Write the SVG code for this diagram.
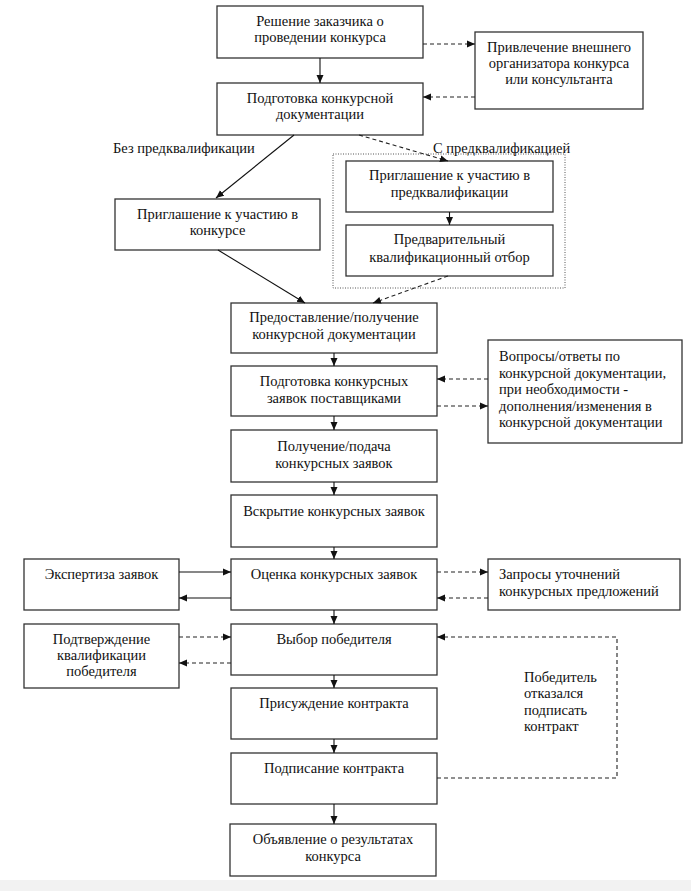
<svg xmlns="http://www.w3.org/2000/svg" width="691" height="891" viewBox="0 0 691 891">
<style>
.b{fill:#fff;stroke:#333;stroke-width:1.3}
.t{font-family:"Liberation Serif","Times New Roman",serif;font-size:14.5px;fill:#111;text-anchor:middle}
.l{text-anchor:start}
.s{fill:none;stroke:#111;stroke-width:1.1}
.d{fill:none;stroke:#222;stroke-width:1.1;stroke-dasharray:4 3}
</style>
<defs>
<marker id="a" markerUnits="userSpaceOnUse" markerWidth="9" markerHeight="8" refX="8" refY="4" orient="auto">
<path d="M0,0.5 L8,4 L0,7.5 z" fill="#111"/>
</marker>
</defs>
<rect width="691" height="891" fill="#fff"/>
<rect x="0" y="880" width="691" height="11" fill="#f2f2f2"/>

<g id="n-decision"><rect class="b" x="217" y="6" width="206" height="52"/>
<text class="t" x="320" y="26">Решение заказчика о</text><text class="t" x="320" y="42">проведении конкурса</text></g>

<g id="n-organizer"><rect class="b" x="475" y="32" width="168" height="77"/>
<text class="t" x="559" y="52">Привлечение внешнего</text><text class="t" x="559" y="68">организатора конкурса</text><text class="t" x="559" y="84">или консультанта</text></g>

<g id="n-docs"><rect class="b" x="217" y="83" width="206" height="52"/>
<text class="t" x="320" y="103">Подготовка конкурсной</text><text class="t" x="320" y="119">документации</text></g>

<g id="lbl-without"><text class="t l" x="113" y="153">Без предквалификации</text></g>
<g id="lbl-with"><text class="t l" x="433" y="153">С предквалификацией</text></g>

<g id="n-prequal-group"><rect x="333" y="154" width="232" height="134" fill="none" stroke="#555" stroke-width="1" stroke-dasharray="1 1.5"/></g>

<g id="n-prequal-invite"><rect class="b" x="346" y="161" width="207" height="51"/>
<text class="t" x="449.5" y="180">Приглашение к участию в</text><text class="t" x="449.5" y="197">предквалификации</text></g>

<g id="n-prequal-select"><rect class="b" x="346" y="225" width="207" height="51"/>
<text class="t" x="449.5" y="244">Предварительный</text><text class="t" x="449.5" y="262">квалификационный отбор</text></g>

<g id="n-invite"><rect class="b" x="115" y="199" width="205" height="51"/>
<text class="t" x="217.5" y="219">Приглашение к участию в</text><text class="t" x="217.5" y="235">конкурсе</text></g>

<g id="n-provide"><rect class="b" x="231" y="303" width="206" height="50"/>
<text class="t" x="334" y="322">Предоставление/получение</text><text class="t" x="334" y="339">конкурсной документации</text></g>

<g id="n-prepare"><rect class="b" x="231" y="366" width="206" height="50"/>
<text class="t" x="334" y="386">Подготовка конкурсных</text><text class="t" x="334" y="403">заявок поставщиками</text></g>

<g id="n-questions"><rect class="b" x="488" y="340" width="194" height="103"/>
<text class="t l" x="499" y="361">Вопросы/ответы по</text><text class="t l" x="499" y="377.5">конкурсной документации,</text><text class="t l" x="499" y="394">при необходимости -</text><text class="t l" x="499" y="410.5">дополнения/изменения в</text><text class="t l" x="499" y="427">конкурсной документации</text></g>

<g id="n-submit"><rect class="b" x="231" y="430" width="206" height="52"/>
<text class="t" x="334" y="451">Получение/подача</text><text class="t" x="334" y="468">конкурсных заявок</text></g>

<g id="n-open"><rect class="b" x="231" y="495" width="206" height="52"/>
<text class="t" x="334" y="516">Вскрытие конкурсных заявок</text></g>

<g id="n-evaluate"><rect class="b" x="231" y="559" width="206" height="51"/>
<text class="t" x="334" y="579">Оценка конкурсных заявок</text></g>

<g id="n-expertise"><rect class="b" x="24" y="559" width="155" height="51"/>
<text class="t" x="101.5" y="579">Экспертиза заявок</text></g>

<g id="n-clarify"><rect class="b" x="488" y="559" width="192" height="51"/>
<text class="t l" x="499" y="579">Запросы уточнений</text><text class="t l" x="499" y="596">конкурсных предложений</text></g>

<g id="n-winner"><rect class="b" x="231" y="624" width="206" height="51"/>
<text class="t" x="334" y="644">Выбор победителя</text></g>

<g id="n-confirm"><rect class="b" x="24" y="624" width="155" height="64"/>
<text class="t" x="101.5" y="644">Подтверждение</text><text class="t" x="101.5" y="660">квалификации</text><text class="t" x="101.5" y="676">победителя</text></g>

<g id="lbl-refused"><text class="t l" x="524" y="682">Победитель</text><text class="t l" x="524" y="698">отказался</text><text class="t l" x="524" y="715">подписать</text><text class="t l" x="524" y="731">контракт</text></g>

<g id="n-award"><rect class="b" x="231" y="688" width="206" height="51"/>
<text class="t" x="334" y="708">Присуждение контракта</text></g>

<g id="n-sign"><rect class="b" x="231" y="753" width="206" height="51"/>
<text class="t" x="334" y="773">Подписание контракта</text></g>

<g id="n-announce"><rect class="b" x="230" y="824" width="206" height="52"/>
<text class="t" x="333" y="844">Объявление о результатах</text><text class="t" x="333" y="861">конкурса</text></g>

<g id="connectors">
<line class="s" x1="320" y1="58" x2="320" y2="83" marker-end="url(#a)"/>
<line class="d" x1="423" y1="44" x2="475" y2="44" marker-end="url(#a)"/>
<line class="d" x1="475" y1="97" x2="423" y2="97" marker-end="url(#a)"/>
<line class="s" x1="294" y1="135" x2="216" y2="198" marker-end="url(#a)"/>
<line class="d" x1="359" y1="135" x2="448" y2="161" marker-end="url(#a)"/>
<line class="s" x1="449.5" y1="212" x2="449.5" y2="225" marker-end="url(#a)"/>
<line class="s" x1="218" y1="250" x2="305" y2="303" marker-end="url(#a)"/>
<line class="d" x1="448" y1="276" x2="373" y2="303" marker-end="url(#a)"/>
<line class="s" x1="334" y1="353" x2="334" y2="366" marker-end="url(#a)"/>
<line class="s" x1="334" y1="416" x2="334" y2="430" marker-end="url(#a)"/>
<line class="s" x1="334" y1="482" x2="334" y2="495" marker-end="url(#a)"/>
<line class="s" x1="334" y1="547" x2="334" y2="559" marker-end="url(#a)"/>
<line class="s" x1="334" y1="610" x2="334" y2="624" marker-end="url(#a)"/>
<line class="s" x1="334" y1="675" x2="334" y2="688" marker-end="url(#a)"/>
<line class="s" x1="334" y1="739" x2="334" y2="753" marker-end="url(#a)"/>
<line class="s" x1="334" y1="804" x2="334" y2="824" marker-end="url(#a)"/>
<line class="d" x1="488" y1="379" x2="437" y2="379" marker-end="url(#a)"/>
<line class="d" x1="437" y1="406" x2="488" y2="406" marker-end="url(#a)"/>
<line class="s" x1="179" y1="572" x2="231" y2="572" marker-end="url(#a)"/>
<line class="s" x1="231" y1="598" x2="179" y2="598" marker-end="url(#a)"/>
<line class="d" x1="437" y1="572" x2="488" y2="572" marker-end="url(#a)"/>
<line class="d" x1="488" y1="598" x2="437" y2="598" marker-end="url(#a)"/>
<line class="d" x1="179" y1="637" x2="231" y2="637" marker-end="url(#a)"/>
<line class="d" x1="231" y1="663" x2="179" y2="663" marker-end="url(#a)"/>
<polyline class="d" points="437,778 617,778 617,637 437,637" marker-end="url(#a)"/>
</g>
</svg>
